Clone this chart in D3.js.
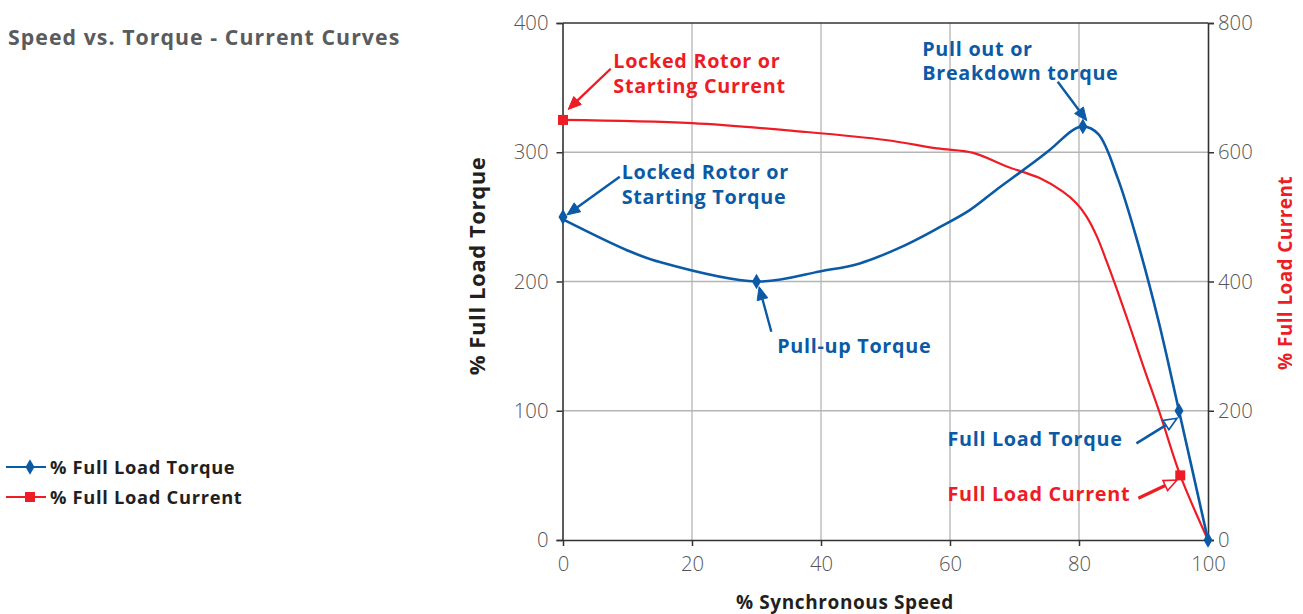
<!DOCTYPE html>
<html>
<head>
<meta charset="utf-8">
<script src="https://cdn.jsdelivr.net/npm/d3@7/dist/d3.min.js"></script>
<style>
  html, body { margin: 0; padding: 0; background: #fff; }
  svg { display: block; }
  text { font-family: "Open Sans", "Liberation Sans", sans-serif; }
</style>
</head>
<body>
<svg id="chart" width="1303" height="614"></svg>
<script>
// Speed (% synchronous) vs. torque curve
const torqueSpeed = [0, 10, 15, 30, 40, 46, 53, 58.4, 63, 67.2, 71.3, 75.5, 79, 80.6, 83, 86, 89, 92.3, 95.5, 100];
const torqueValues = [248, 224, 215, 200, 208, 214, 228, 242, 255, 271, 286, 302, 317, 320, 314, 280, 232, 170, 100, 0];
// Marked torque points
const torqueMarkSpeed = [0, 30, 80.6, 95.5, 100];
const torqueMarkValues = [250, 200, 320, 100, 0];

// Speed vs. current curve (right axis)
const currentSpeed = [0, 20, 37, 50, 58, 63.6, 68.8, 73.9, 77.5, 79.6, 81.2, 82.8, 84.4, 85.8, 87.9, 90, 92.6, 95.7, 100];
const currentValues = [650, 645, 632, 619, 606, 599, 578, 560, 539, 521, 500, 469, 428, 390, 330, 268, 194, 100, 0];
const currentMarkSpeed = [0, 95.7];
const currentMarkValues = [650, 100];

// Axis ticks
const speedTicks = [0, 20, 40, 60, 80, 100];
const torqueTicks = [0, 100, 200, 300, 400];
const currentTicks = [0, 200, 400, 600, 800];

const BLUE = "#0b5aa6";
const RED = "#ee1c25";
const DARK = "#231f20";
const TICK_FONT = "Roboto, 'Liberation Sans', sans-serif";

const svg = d3.select("#chart");
const plot = { left: 563, right: 1208, top: 23, bottom: 540 };

const x = d3.scaleLinear().domain([0, 100]).range([plot.left, plot.right]);
const yT = d3.scaleLinear().domain([0, 400]).range([plot.bottom, plot.top]);
const yC = d3.scaleLinear().domain([0, 800]).range([plot.bottom, plot.top]);

// Title
svg.append("text")
  .attr("x", 8).attr("y", 45)
  .attr("font-size", 21.3).attr("font-weight", 700)
  .attr("fill", "#5a5b5d")
  .attr("letter-spacing", 1.05)
  .text("Speed vs. Torque - Current Curves");

// Grid
const grid = svg.append("g");
grid.selectAll("line.v").data(speedTicks.slice(1, -1)).join("line")
  .attr("x1", d => x(d)).attr("x2", d => x(d))
  .attr("y1", plot.top).attr("y2", plot.bottom)
  .attr("stroke", "#b5b5b5").attr("stroke-width", 1.3);
grid.selectAll("line.h").data(torqueTicks.slice(1, -1)).join("line")
  .attr("x1", plot.left).attr("x2", plot.right)
  .attr("y1", d => yT(d)).attr("y2", d => yT(d))
  .attr("stroke", "#b5b5b5").attr("stroke-width", 1.3);

// Frame (top border)
svg.append("line")
  .attr("x1", plot.left).attr("x2", plot.right)
  .attr("y1", plot.top).attr("y2", plot.top)
  .attr("stroke", "#333").attr("stroke-width", 1.5);

function styleAxis(g) {
  g.select(".domain").attr("stroke", "#333").attr("stroke-width", 1.6);
  g.selectAll(".tick line").attr("stroke", "#333").attr("stroke-width", 1.5);
  g.selectAll(".tick text")
    .attr("fill", "#555")
    .attr("font-size", 20.3)
    .attr("font-weight", 300)
    .attr("font-family", TICK_FONT);
}

svg.append("g")
  .attr("transform", `translate(${plot.left - 0.5},0)`)
  .call(d3.axisLeft(yT).tickValues(torqueTicks).tickSize(6).tickPadding(8).tickSizeOuter(6))
  .call(styleAxis);

svg.append("g")
  .attr("transform", `translate(${plot.right},0)`)
  .call(d3.axisRight(yC).tickValues(currentTicks).tickSize(6).tickPadding(4).tickSizeOuter(6))
  .call(styleAxis);

svg.append("g")
  .attr("transform", `translate(0,${plot.bottom})`)
  .call(d3.axisBottom(x).tickValues(speedTicks).tickSize(6).tickPadding(11).tickSizeOuter(0))
  .call(styleAxis);

// Axis titles
svg.append("text")
  .attr("transform", `translate(485,266) rotate(-90)`)
  .attr("text-anchor", "middle")
  .attr("font-size", 22).attr("font-weight", 700).attr("fill", DARK)
  .attr("letter-spacing", 0.6)
  .text("% Full Load Torque");

svg.append("text")
  .attr("transform", `translate(1292,273) rotate(-90)`)
  .attr("text-anchor", "middle")
  .attr("font-size", 19).attr("font-weight", 700).attr("fill", RED)
  .attr("letter-spacing", 0.4)
  .text("% Full Load Current");

svg.append("text")
  .attr("x", 845).attr("y", 609)
  .attr("text-anchor", "middle")
  .attr("font-size", 19).attr("font-weight", 700).attr("fill", DARK)
  .attr("letter-spacing", 0.6)
  .text("% Synchronous Speed");

// Curves
const torquePts = torqueSpeed.map((s, i) => [s, torqueValues[i]]);
const currentPts = currentSpeed.map((s, i) => [s, currentValues[i]]);

const lineT = d3.line().x(d => x(d[0])).y(d => yT(d[1])).curve(d3.curveCatmullRom.alpha(0.5));
const lineC = d3.line().x(d => x(d[0])).y(d => yC(d[1])).curve(d3.curveCatmullRom.alpha(0.5));

svg.append("path").datum(currentPts)
  .attr("d", lineC).attr("fill", "none")
  .attr("stroke", RED).attr("stroke-width", 2.2);

svg.append("path").datum(torquePts)
  .attr("d", lineT).attr("fill", "none")
  .attr("stroke", BLUE).attr("stroke-width", 2.6);

// Markers
const diamond = d3.symbol().type(d3.symbolDiamond).size(70);
svg.selectAll("path.tmark").data(torqueMarkSpeed).join("path")
  .attr("class", "tmark")
  .attr("d", diamond)
  .attr("transform", (d, i) => `translate(${x(d)},${yT(torqueMarkValues[i])})`)
  .attr("fill", BLUE);

svg.selectAll("rect.cmark").data(currentMarkSpeed).join("rect")
  .attr("class", "cmark")
  .attr("x", d => x(d) - 5).attr("width", 10)
  .attr("y", (d, i) => yC(currentMarkValues[i]) - 5).attr("height", 10)
  .attr("fill", RED);

// Annotations: arrow tail and tip in data units (speed %, torque %)
const notes = [
  { color: RED, lines: ["Locked Rotor or", "Starting Current"], tx: 7.8, ty: 365, tail: [7.4, 364.6], tip: [0.8, 333.1], open: false, w: 2.4 },
  { color: BLUE, lines: ["Locked Rotor or", "Starting Torque"], tx: 9.1, ty: 279, tail: [8.8, 281.1], tip: [0.6, 251.5], open: false, w: 2.4 },
  { color: BLUE, lines: ["Pull-up Torque"], tx: 33.2, ty: 145, tail: [32.3, 161.1], tip: [30.4, 196.0], open: false, w: 2.4 },
  { color: BLUE, lines: ["Pull out or", "Breakdown torque"], tx: 55.7, ty: 374.5, tail: [76.7, 354.6], tip: [81.2, 324.4], open: false, w: 2.4 },
  { color: BLUE, lines: ["Full Load Torque"], tx: 59.6, ty: 73, tail: [88.9, 74.8], tip: [95.2, 94.2], open: true, w: 2.6 },
  { color: RED, lines: ["Full Load Current"], tx: 59.6, ty: 30.4, tail: [89.2, 32.3], tip: [95.2, 46.4], open: true, w: 3.2 }
];

notes.forEach(n => {
  const t = svg.append("text")
    .attr("x", x(n.tx)).attr("y", yT(n.ty))
    .attr("font-size", 19.8).attr("font-weight", 700).attr("fill", n.color)
    .attr("letter-spacing", 0.7);
  n.lines.forEach((ln, i) => {
    t.append("tspan").attr("x", x(n.tx)).attr("dy", i === 0 ? 0 : 24.5).text(ln);
  });

  const x0 = x(n.tail[0]), y0 = yT(n.tail[1]);
  const x1 = x(n.tip[0]), y1 = yT(n.tip[1]);
  const ang = Math.atan2(y1 - y0, x1 - x0);
  const len = 13, half = 5.5;
  const bx = x1 - len * Math.cos(ang), by = y1 - len * Math.sin(ang);
  svg.append("line")
    .attr("x1", x0).attr("y1", y0).attr("x2", bx).attr("y2", by)
    .attr("stroke", n.color).attr("stroke-width", n.w);
  const px = -Math.sin(ang), py = Math.cos(ang);
  const head = [[x1, y1], [bx + px * half, by + py * half], [bx - px * half, by - py * half]];
  svg.append("path")
    .attr("d", "M" + head.map(p => p.join(",")).join("L") + "Z")
    .attr("fill", n.open ? "#fff" : n.color)
    .attr("stroke", n.color).attr("stroke-width", n.open ? 1.6 : 1)
    .attr("stroke-linejoin", "miter");
});

// Legend
const legend = [
  { label: "% Full Load Torque", color: BLUE, mark: "diamond" },
  { label: "% Full Load Current", color: RED, mark: "square" }
];
legend.forEach((d, i) => {
  const cy = 467 + i * 30;
  const g = svg.append("g");
  g.append("line").attr("x1", 6).attr("x2", 46).attr("y1", cy).attr("y2", cy)
    .attr("stroke", d.color).attr("stroke-width", 2.2);
  if (d.mark === "diamond") {
    g.append("path").attr("d", diamond).attr("transform", `translate(30,${cy})`).attr("fill", d.color);
  } else {
    g.append("rect").attr("x", 25).attr("y", cy - 5).attr("width", 10).attr("height", 10).attr("fill", d.color);
  }
  g.append("text").attr("x", 50).attr("y", cy + 7)
    .attr("font-size", 18.3).attr("font-weight", 700).attr("fill", DARK)
    .attr("letter-spacing", 0.7)
    .text(d.label);
});
</script>
</body>
</html>
